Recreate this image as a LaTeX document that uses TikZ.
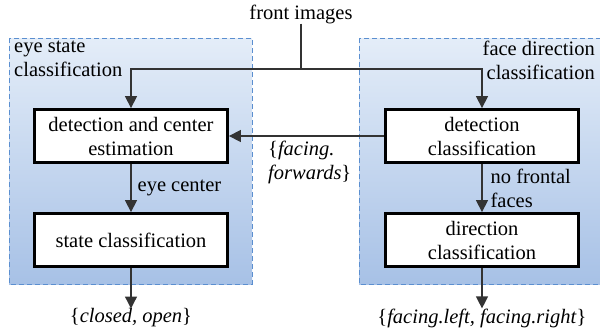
\documentclass[tikz,border=0pt]{standalone}
\usepackage{fontspec}
\setmainfont{Liberation Serif}
\usetikzlibrary{arrows.meta}
\definecolor{topblue}{HTML}{E4EDF8}
\definecolor{botblue}{HTML}{A7C1E6}
\definecolor{grpblue}{HTML}{5B8FD0}
\definecolor{linegray}{HTML}{333333}
\begin{document}
\begin{tikzpicture}[x=1pt,y=-1pt, font=\fontsize{20.5}{24}\selectfont,
 grp/.style={draw=grpblue, dash pattern=on 5pt off 3pt, line width=1pt, top color=topblue, bottom color=botblue},
 blk/.style={draw=black, line width=2.8pt, fill=white, minimum width=193pt, minimum height=53pt, align=center, inner sep=0pt},
 con/.style={draw=linegray, line width=1.3pt, -{Triangle[length=12pt,width=12pt]}},
 plain/.style={draw=linegray, line width=1.3pt},
 lbl/.style={inner sep=0pt, align=left}]
\useasboundingbox (0,0) rectangle (600,335);
\path[grp] (9,38) rectangle (252,284);
\path[grp] (359,38) rectangle (606,284);
\node[lbl, anchor=north west] (gl) at (14,41) {eye state\\classification};
\node[lbl, anchor=north east, align=right] (gr) at (595,41) {face direction\\classification};
\node[blk] (b1) at (131,136) {detection and center\\estimation};
\node[blk] (b2) at (131,240) {state classification};
\node[blk] (b3) at (482,136) {detection\\classification};
\node[blk] (b4) at (482,240) {direction\\classification};
\node[inner sep=0pt] (fi) at (301,14) {front images};
\coordinate (j) at (301,69);
\coordinate (jl) at (131,69);
\coordinate (jr) at (482,69);
\draw[plain] (fi.south) -- (j);
\draw[con] (j) -- (jl) -- (b1.north);
\draw[con] (j) -- (jr) -- (b3.north);
\draw[con] (b3.west) -- (b1.east);
\node[lbl, anchor=north west] (ff) at (268,141) {\{\textit{facing.}\\\textit{forwards}\}};
\draw[con] (b1.south) -- (b2.north) node[midway, right=6pt, inner sep=0pt] (ec) {eye center};
\draw[con] (b3.south) -- (b4.north) node[midway, right=8pt, inner sep=0pt, align=left] (nf) {no frontal\\faces};
\node[inner sep=0pt] (o1) at (131,318) {\{\textit{closed, open}\}};
\node[inner sep=0pt] (o2) at (482,318) {\{\textit{facing.left, facing.right}\}};
\draw[con] (b2.south) -- (o1.north);
\draw[con] (b4.south) -- (o2.north);
\end{tikzpicture}
\end{document}
